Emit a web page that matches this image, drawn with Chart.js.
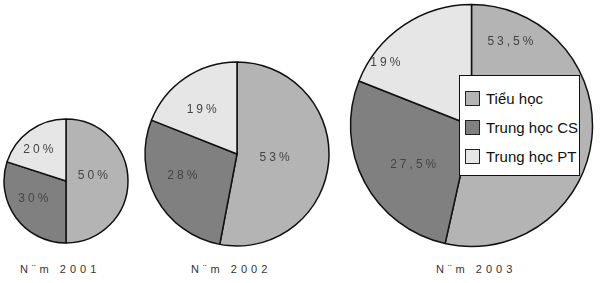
<!DOCTYPE html>
<html>
<head>
<meta charset="utf-8">
<script src="https://cdn.jsdelivr.net/npm/chart.js@4"></script>
<style>
  body { margin: 0; background: #fff; width: 604px; height: 283px; position: relative; overflow: hidden; font-family: 'Liberation Sans', Arial, sans-serif; }
  .pie { position: absolute; }
  .year { position: absolute; top: 263px; font-size: 11px; letter-spacing: 4px; color: #333; white-space: nowrap; }
  #legend { position: absolute; left: 459px; top: 75px; width: 119px; height: 99px; background: #fff; border: 1.5px solid #111; }
  #legend div { position: absolute; left: 5px; font-size: 15px; color: #111; white-space: nowrap; }
  #legend span { display: inline-block; width: 13px; height: 13px; border: 1.5px solid #222; margin-right: 6px; vertical-align: -2px; }
</style>
</head>
<body>
<div class="pie" style="left:2px;top:117px;width:128px;height:128px"><canvas id="pie1"></canvas></div>
<div class="pie" style="left:142px;top:59px;width:190px;height:190px"><canvas id="pie2"></canvas></div>
<div class="pie" style="left:348px;top:2px;width:247px;height:247px"><canvas id="pie3"></canvas></div>
<div class="year" style="left:20px">N¨m 2001</div>
<div class="year" style="left:191px">N¨m 2002</div>
<div class="year" style="left:436px">N¨m 2003</div>
<div id="legend"></div>
<script>
// data
var categories = ['Tiểu học', 'Trung học CS', 'Trung học PT'];
var years = ['N¨m 2001', 'N¨m 2002', 'N¨m 2003'];
var values2001 = [50, 30, 20];
var values2002 = [53, 28, 19];
var values2003 = [53.5, 27.5, 19];

var colors = ['#b4b4b4', '#808080', '#e6e6e6'];

// where each value label sits: [fraction along the slice, fraction of radius]
var labelPos1 = [[0.44, 0.44], [0.57, 0.6], [0.42, 0.67]];
var labelPos2 = [[0.5, 0.41], [0.57, 0.64], [0.44, 0.62]];
var labelPos3 = [[0.13, 0.76], [0.44, 0.58], [0.21, 0.88]];

var valueLabels = {
    id: 'valueLabels',
    afterDatasetsDraw: function(chart, args, opts){
        var ctx = chart.ctx;
        var meta = chart.getDatasetMeta(0);
        var vals = chart.data.datasets[0].data;
        ctx.save();
        ctx.font = '12px "Liberation Sans", Arial, sans-serif';
        ctx.fillStyle = '#444';
        ctx.textAlign = 'center';
        ctx.textBaseline = 'middle';
        ctx.letterSpacing = '3px';
        meta.data.forEach(function(arc, i){
            var p = opts.pos[i];
            var a = arc.startAngle + p[0] * (arc.endAngle - arc.startAngle);
            var r = arc.outerRadius * p[1];
            var txt = String(vals[i]).replace('.', ',') + '%';
            ctx.fillText(txt, arc.x + Math.cos(a) * r + 1.5, arc.y + Math.sin(a) * r);
        });
        ctx.restore();
    }
};

function makePie(id, values, radius, pos){
    var ctx = document.getElementById(id).getContext('2d');
    return new Chart(ctx, {
        type: 'pie',
        data: {
            labels: categories,
            datasets: [{
                data: values,
                backgroundColor: colors,
                borderColor: '#111',
                borderWidth: 1.5,
                hoverOffset: 0
            }]
        },
        options: {
            responsive: true,
            maintainAspectRatio: false,
            animation: false,
            radius: radius,
            layout: { padding: 0 },
            plugins: {
                legend: { display: false },
                tooltip: { enabled: false },
                valueLabels: { pos: pos }
            }
        },
        plugins: [valueLabels]
    });
}

myChart1 = makePie('pie1', values2001, 62, labelPos1);
myChart2 = makePie('pie2', values2002, 92, labelPos2);
myChart3 = makePie('pie3', values2003, 121, labelPos3);

// legend
var legend = document.getElementById('legend');
categories.forEach(function(c, i){
    var d = document.createElement('div');
    d.style.top = (14 + i * 29) + 'px';
    d.innerHTML = '<span style="background:' + colors[i] + '"></span>' + c;
    legend.appendChild(d);
});
</script>
</body>
</html>
